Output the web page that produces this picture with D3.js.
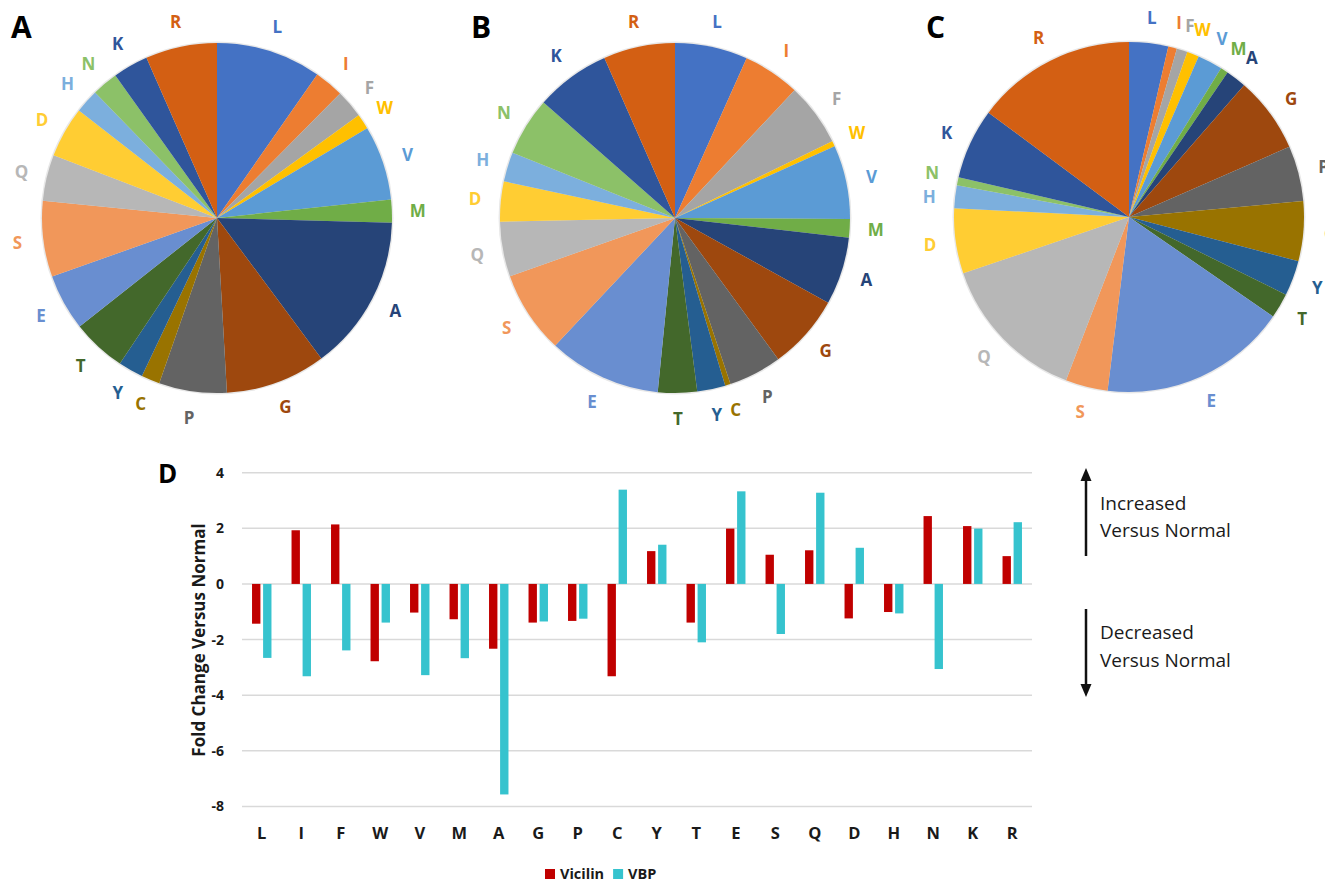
<!DOCTYPE html>
<html>
<head>
<meta charset="utf-8">
<script src="https://cdn.jsdelivr.net/npm/d3@7"></script>
<style>
  body { margin: 0; background: #fff; }
  svg { display: block; font-family: "Open Sans", "Noto Sans", sans-serif; }
</style>
</head>
<body>
<div id="chart"></div>
<script>
// Amino acid composition (percent of residues), slices clockwise from 12 o'clock
const aminoAcids = ['L','I','F','W','V','M','A','G','P','C','Y','T','E','S','Q','D','H','N','K','R'];
const pieA = [9.7, 2.7, 2.6, 1.4, 6.9, 2.1, 14.4, 9.25, 6.25, 1.7, 2.3, 5.0, 5.2, 7.0, 4.25, 4.7, 2.2, 2.4, 3.25, 6.6];
const pieB = [6.7, 5.25, 5.8, 0.5, 6.8, 1.7, 6.25, 6.9, 4.9, 0.5, 2.6, 3.6, 10.4, 7.6, 5.05, 3.7, 2.7, 5.4, 6.9, 6.6];
const pieC = [3.6, 0.8, 1.0, 1.1, 2.3, 0.7, 1.9, 7.0, 5.1, 5.5, 3.25, 2.3, 17.3, 3.9, 13.9, 6.0, 2.1, 0.75, 6.5, 14.8];
const sliceColors = ['#4472C4','#ED7D31','#A5A5A5','#FFC000','#5B9BD5','#70AD47','#264478','#9E480E','#636363','#997300',
                     '#255E91','#43682B','#698ED0','#F1975A','#B7B7B7','#FFCD33','#7CAFDD','#8CC168','#2F559B','#D35F13'];

// Fold change versus normal
const vicilin = [-1.43, 1.93, 2.14, -2.78, -1.03, -1.27, -2.33, -1.39, -1.33, -3.32, 1.18, -1.39, 1.99, 1.05, 1.21, -1.24, -1.01, 2.44, 2.08, 1.00];
const vbp     = [-2.66, -3.32, -2.39, -1.39, -3.28, -2.67, -7.57, -1.35, -1.25, 3.39, 1.41, -2.10, 3.33, -1.80, 3.28, 1.30, -1.06, -3.06, 1.99, 2.22];
const yTicks = [4, 2, 0, -2, -4, -6, -8];
const seriesNames = ['Vicilin', 'VBP'];
const seriesColors = ['#C00000', '#36C3CE'];

const W = 1325, H = 884;
const svg = d3.select('#chart').append('svg')
    .attr('width', W)
    .attr('height', H);

// ---- Pie panels ----
const pie = d3.pie().sort(null).value(d => d);
const radius = 175;
const arc = d3.arc().innerRadius(0).outerRadius(radius);

function drawPie(values, cx, cy, letter, lx, nudge) {
    const g = svg.append('g').attr('transform', `translate(${cx},${cy})`);
    const arcs = pie(values);

    g.append('circle')
        .attr('r', radius + 1.5)
        .attr('fill', '#e8e8e8');

    g.selectAll('path')
        .data(arcs)
        .enter()
        .append('path')
        .attr('d', arc)
        .attr('fill', (d, i) => sliceColors[i]);

    // Labels outside the slice, at mid angle (small nudges where labels crowd)
    const labelR = 201;
    g.selectAll('text.slice-label')
        .data(arcs)
        .enter()
        .append('text')
        .attr('class', 'slice-label')
        .attr('x', d => labelR * Math.sin((d.startAngle + d.endAngle) / 2))
        .attr('y', (d, i) => -labelR * Math.cos((d.startAngle + d.endAngle) / 2) + ((nudge || {})[aminoAcids[i]] || 0))
        .attr('text-anchor', 'middle')
        .attr('dominant-baseline', 'central')
        .style('font-size', '17px')
        .style('font-weight', 'bold')
        .style('fill', (d, i) => sliceColors[i])
        .text((d, i) => aminoAcids[i]);

    // Panel letter
    svg.append('text')
        .attr('x', lx)
        .attr('y', 38)
        .style('font-size', '30px')
        .style('font-weight', 'bold')
        .style('fill', '#000')
        .text(letter);
}

drawPie(pieA, 217, 218, 'A', 11);
drawPie(pieB, 675, 218, 'B', 471);
drawPie(pieC, 1129, 217, 'C', 926, { N: -3, H: 3 });

// ---- Bar chart (D) ----
const x = d3.scaleBand()
    .domain(aminoAcids)
    .range([242, 1032]);

const y = d3.scaleLinear()
    .domain([-8, 4])
    .range([806.4, 472.7]);

// Grid lines
svg.append('g')
    .attr('class', 'grid-lines')
    .selectAll('line')
    .data(yTicks)
    .enter()
    .append('line')
    .attr('x1', 242)
    .attr('x2', 1032)
    .attr('y1', d => y(d))
    .attr('y2', d => y(d))
    .attr('stroke', '#D9D9D9')
    .attr('stroke-width', 1.5);

// Y axis
const yAxis = svg.append('g')
    .attr('transform', 'translate(242,0)')
    .call(d3.axisLeft(y).tickValues(yTicks).tickSize(0).tickPadding(18)
        .tickFormat(d => String(d)));
yAxis.select('.domain').remove();
yAxis.selectAll('text')
    .style('font-family', '"Open Sans", sans-serif')
    .style('font-size', '14px')
    .style('font-weight', 'bold')
    .style('fill', '#1a1a1a');

// X axis labels
const xAxis = svg.append('g')
    .attr('transform', `translate(0,${y(-8)})`)
    .call(d3.axisBottom(x).tickSize(0));
xAxis.select('.domain').remove();
xAxis.selectAll('text')
    .attr('y', 33)
    .attr('dy', 0)
    .style('font-family', '"Open Sans", sans-serif')
    .style('font-size', '16.5px')
    .style('font-weight', 'bold')
    .style('fill', '#1a1a1a');

// Y axis title
svg.append('text')
    .attr('transform', 'translate(205,640) rotate(-90)')
    .attr('text-anchor', 'middle')
    .style('font-size', '17px')
    .style('font-weight', 'bold')
    .style('fill', '#1a1a1a')
    .text('Fold Change Versus Normal');

// Bars
const barW = x.bandwidth() * 0.212;
const barGap = x.bandwidth() * 0.068;
[vicilin, vbp].forEach((series, s) => {
    svg.append('g')
        .attr('class', `series-${s}`)
        .selectAll('rect')
        .data(series)
        .enter()
        .append('rect')
        .attr('x', (d, i) => {
            const c = x(aminoAcids[i]) + x.bandwidth() / 2;
            return s === 0 ? c - barGap / 2 - barW : c + barGap / 2;
        })
        .attr('y', d => y(Math.max(0, d)))
        .attr('width', barW)
        .attr('height', d => Math.abs(y(d) - y(0)))
        .attr('fill', seriesColors[s]);
});

// Panel letter D
svg.append('text')
    .attr('x', 158)
    .attr('y', 483)
    .style('font-size', '26px')
    .style('font-weight', 'bold')
    .style('fill', '#000')
    .text('D');

// Legend
const legend = svg.append('g').attr('class', 'chart-legend');
let lxPos = 545;
seriesNames.forEach((name, i) => {
    legend.append('rect')
        .attr('x', lxPos)
        .attr('y', 869)
        .attr('width', 10)
        .attr('height', 10)
        .attr('fill', seriesColors[i]);
    const t = legend.append('text')
        .attr('x', lxPos + 15)
        .attr('y', 879)
        .style('font-size', '14.5px')
        .style('font-weight', 'bold')
        .style('fill', '#1a1a1a')
        .text(name);
    lxPos += 15 + t.node().getComputedTextLength() + 9;
});

// Direction arrows and notes
function arrow(x0, yFrom, yTip) {
    const dir = yTip < yFrom ? 1 : -1;
    const headLen = 13, headHalf = 5.5;
    svg.append('line')
        .attr('x1', x0).attr('x2', x0)
        .attr('y1', yFrom).attr('y2', yTip + dir * headLen * 0.8)
        .attr('stroke', '#111')
        .attr('stroke-width', 2.5);
    svg.append('path')
        .attr('d', `M${x0},${yTip} L${x0 - headHalf},${yTip + dir * headLen} L${x0 + headHalf},${yTip + dir * headLen} Z`)
        .attr('fill', '#111');
}
arrow(1086, 556, 468);
arrow(1086, 609, 697);

const notes = [
    { text: 'Increased', y: 510 },
    { text: 'Versus Normal', y: 537 },
    { text: 'Decreased', y: 639 },
    { text: 'Versus Normal', y: 667 }
];
svg.selectAll('text.note')
    .data(notes)
    .enter()
    .append('text')
    .attr('class', 'note')
    .attr('x', 1100)
    .attr('y', d => d.y)
    .style('font-size', '19px')
    .style('fill', '#1a1a1a')
    .text(d => d.text);
</script>
</body>
</html>
